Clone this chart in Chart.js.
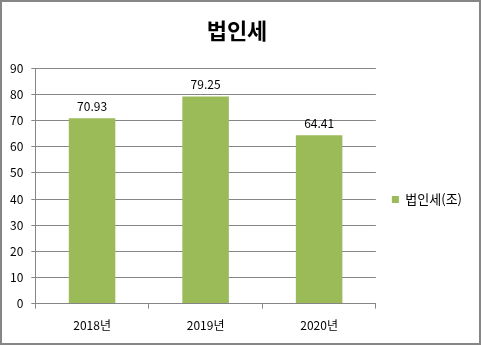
<!DOCTYPE html>
<html>
<head>
<meta charset="utf-8">
<script src="https://cdn.jsdelivr.net/npm/chart.js@4"></script>
<style>
  body { margin: 0; background: #fff; }
  #wrap { width: 481px; height: 346px; }
</style>
</head>
<body>
<div id="wrap"><canvas id="taxChart" width="481" height="346"></canvas></div>
<script>
const years = ['2018년', '2019년', '2020년'];
const corpTax = [70.93, 79.25, 64.41];
const seriesName = '법인세(조)';
const chartTitle = '법인세';

const FONT = "'Noto Sans CJK KR', 'DejaVu Sans', sans-serif";
const GRID = '#868686';

// white background and grey frame around the whole picture
const framePlugin = {
    id: 'frame',
    beforeDraw(chart) {
        const { ctx, width, height } = chart;
        ctx.save();
        ctx.fillStyle = '#fff';
        ctx.fillRect(0, 0, width, height);
        ctx.strokeStyle = '#868686';
        ctx.lineWidth = 2;
        ctx.strokeRect(1, 1, width - 2, height - 3);
        ctx.restore();
    }
};

// value above every bar
const valueLabels = {
    id: 'valueLabels',
    afterDatasetsDraw(chart) {
        const { ctx } = chart;
        const meta = chart.getDatasetMeta(0);
        ctx.save();
        ctx.font = '12px ' + FONT;
        ctx.fillStyle = '#000';
        ctx.textAlign = 'center';
        ctx.textBaseline = 'middle';
        meta.data.forEach((bar, i) => {
            ctx.fillText(corpTax[i].toFixed(2), bar.x, bar.y - 12);
        });
        ctx.restore();
    }
};

new Chart(document.getElementById('taxChart'), {
    type: 'bar',
    data: {
        labels: years,
        datasets: [{
            label: seriesName,
            data: corpTax,
            backgroundColor: '#9BBB59',
            borderWidth: 0,
            barPercentage: 0.41,
            categoryPercentage: 1
        }]
    },
    options: {
        responsive: false,
        animation: false,
        layout: { padding: { left: 2, right: 9, top: 0, bottom: 3 } },
        plugins: {
            title: {
                display: true,
                text: chartTitle,
                color: '#000',
                font: { family: FONT, size: 22, weight: 'bold' },
                padding: { top: 17, bottom: 25 }
            },
            legend: {
                position: 'right',
                title: {
                    display: true,
                    text: ' ',
                    font: { size: 10 },
                    padding: { top: 22, bottom: 22 }
                },
                labels: {
                    color: '#000',
                    font: { family: FONT, size: 13 },
                    boxWidth: 7,
                    boxHeight: 7,
                    padding: 16
                }
            },
            tooltip: { enabled: false }
        },
        scales: {
            x: {
                grid: {
                    offset: true,
                    drawOnChartArea: false,
                    drawTicks: true,
                    tickLength: 5,
                    color: GRID
                },
                border: { color: GRID },
                ticks: { color: '#000', font: { family: FONT, size: 12 }, padding: 10 }
            },
            y: {
                min: 0,
                max: 90,
                grid: { color: GRID, tickLength: 4 },
                border: { color: GRID },
                ticks: { stepSize: 10, color: '#000', font: { family: FONT, size: 12 }, padding: 8 }
            }
        }
    },
    plugins: [framePlugin, valueLabels]
});
</script>
</body>
</html>
